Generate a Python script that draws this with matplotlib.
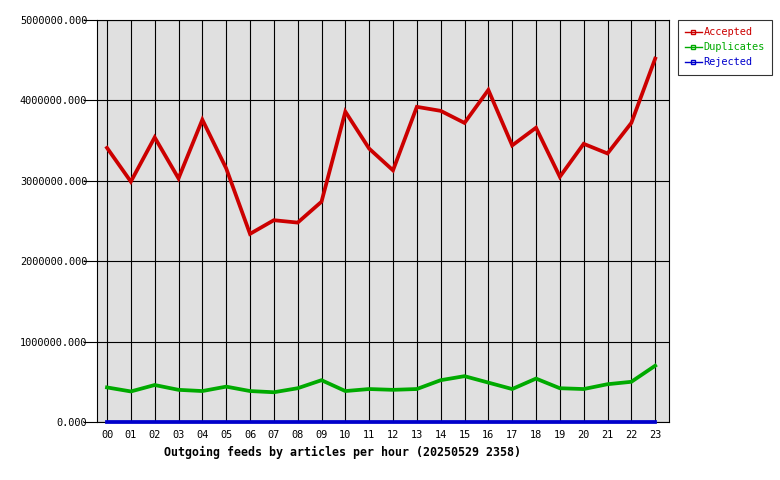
import numpy as np
import matplotlib.pyplot as plt
from matplotlib.lines import Line2D

hours = ["%02d" % h for h in range(24)]
accepted = [3.41e6, 2.99e6, 3.54e6, 3.03e6, 3.76e6, 3.155e6, 2.34e6, 2.51e6,
            2.48e6, 2.74e6, 3.86e6, 3.40e6, 3.13e6, 3.92e6, 3.87e6, 3.72e6,
            4.13e6, 3.44e6, 3.66e6, 3.05e6, 3.46e6, 3.34e6, 3.72e6, 4.52e6]
duplicates = [0.43e6, 0.38e6, 0.46e6, 0.40e6, 0.385e6, 0.44e6, 0.385e6, 0.37e6,
              0.42e6, 0.52e6, 0.385e6, 0.41e6, 0.40e6, 0.41e6, 0.52e6, 0.57e6,
              0.49e6, 0.41e6, 0.54e6, 0.42e6, 0.41e6, 0.47e6, 0.50e6, 0.70e6]
rejected = [0] * 24
yticks = [0, 1e6, 2e6, 3e6, 4e6, 5e6]

plt.rcParams['font.family'] = 'DejaVu Sans Mono'

fig = plt.figure(figsize=(7.8, 4.8), dpi=100)
ax = fig.add_axes([97 / 780, 58 / 480, 572 / 780, 402 / 480])
ax.set_facecolor('#e0e0e0')

x = np.arange(24)
series = [("Accepted", accepted, '#cc0000'),
          ("Duplicates", duplicates, '#00aa00'),
          ("Rejected", rejected, '#0000cc')]
for name, vals, col in series:
    ax.plot(x, vals, color=col, lw=2.7, clip_on=False, zorder=3,
            solid_joinstyle='miter')

ax.set_xlim(-0.42, 23.58)
ax.set_ylim(0, 5e6)
ax.set_xticks(x)
ax.set_xticklabels(hours, fontsize=7.4)
ax.set_yticks(yticks)
ax.set_yticklabels(["%.3f" % v for v in yticks], fontsize=7.4)
ax.tick_params(axis='x', length=0, pad=6)
ax.tick_params(axis='y', length=10, width=0.8, pad=-3)
ax.grid(True, color='black', lw=0.8)
ax.set_axisbelow(True)
for s in ax.spines.values():
    s.set_linewidth(0.8)

fig.text(343 / 780, 1 - 452 / 480, "Outgoing feeds by articles per hour (20250529 2358)",
         ha='center', va='center', fontsize=8.4, fontweight='bold')

handles = [Line2D([0], [0], color=col, lw=1, marker='s', markersize=3,
                  mfc='none', mec=col) for _, _, col in series]
leg = fig.legend(handles, [s[0] for s in series], loc='upper left',
                 bbox_to_anchor=(678 / 780, 1 - 20 / 480), fontsize=7.4,
                 labelcolor=[s[2] for s in series], frameon=True, fancybox=False,
                 edgecolor='black', handlelength=1.6, handletextpad=0.2,
                 borderpad=0.7, labelspacing=0.5, borderaxespad=0)
leg.get_frame().set_linewidth(0.8)

fig.savefig('out.png', dpi=100)
